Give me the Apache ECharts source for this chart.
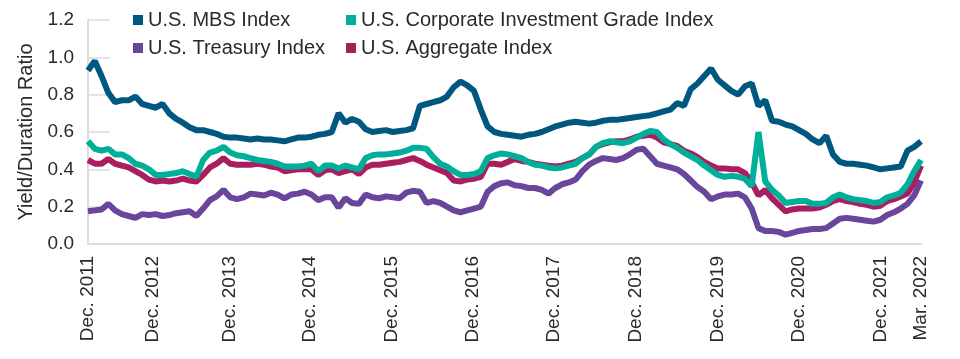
<!DOCTYPE html>
<html>
<head>
<meta charset="utf-8">
<script src="https://cdn.jsdelivr.net/npm/echarts@6/dist/echarts.min.js"></script>
<style>
html,body{margin:0;padding:0;background:#fff;}
#chart{width:960px;height:359px;}
</style>
</head>
<body>
<div id="chart"></div>
<script>
// Monthly observations, Dec. 2011 (index 0) through Mar. 2022 (index 123)
var mbs = [0.93,0.98,0.90,0.81,0.76,0.77,0.77,0.79,0.75,0.74,0.73,0.75,0.70,0.67,0.65,0.625,0.61,0.61,0.60,0.59,
0.575,0.57,0.57,0.565,0.56,0.565,0.56,0.56,0.555,0.55,0.56,0.57,0.57,0.575,0.585,0.59,0.60,0.70,0.65,0.67,
0.655,0.615,0.60,0.605,0.61,0.60,0.605,0.61,0.62,0.74,0.75,0.76,0.77,0.79,0.84,0.87,0.85,0.82,0.72,0.63,
0.60,0.59,0.585,0.58,0.575,0.585,0.59,0.60,0.615,0.63,0.64,0.65,0.655,0.65,0.645,0.65,0.66,0.665,0.665,0.67,
0.675,0.68,0.685,0.69,0.70,0.71,0.72,0.755,0.74,0.83,0.86,0.90,0.94,0.88,0.85,0.82,0.80,0.845,0.86,0.74,
0.77,0.66,0.655,0.64,0.63,0.61,0.59,0.56,0.54,0.58,0.48,0.44,0.43,0.43,0.425,0.42,0.41,0.40,0.405,0.41,
0.415,0.50,0.52,0.55];
var corporate = [0.55,0.51,0.50,0.51,0.48,0.48,0.46,0.43,0.42,0.40,0.37,0.37,0.375,0.38,0.39,0.375,0.36,0.45,0.49,0.50,
0.52,0.49,0.475,0.47,0.46,0.45,0.445,0.44,0.43,0.415,0.415,0.415,0.42,0.43,0.39,0.42,0.42,0.405,0.42,0.41,
0.40,0.46,0.475,0.48,0.48,0.485,0.49,0.50,0.515,0.515,0.51,0.465,0.43,0.415,0.39,0.37,0.37,0.375,0.39,0.46,
0.475,0.485,0.48,0.47,0.46,0.44,0.425,0.42,0.41,0.405,0.41,0.42,0.43,0.46,0.48,0.52,0.54,0.55,0.545,0.54,
0.55,0.57,0.59,0.605,0.60,0.56,0.535,0.515,0.49,0.47,0.45,0.42,0.395,0.37,0.36,0.365,0.36,0.35,0.31,0.60,
0.335,0.29,0.26,0.22,0.225,0.23,0.23,0.215,0.215,0.22,0.25,0.265,0.25,0.24,0.235,0.23,0.22,0.225,0.25,0.26,
0.275,0.32,0.39,0.45];
var treasury = [0.175,0.18,0.185,0.215,0.18,0.16,0.15,0.14,0.16,0.155,0.16,0.15,0.155,0.165,0.17,0.175,0.15,0.19,0.235,0.255,
0.29,0.25,0.24,0.25,0.27,0.265,0.26,0.275,0.265,0.245,0.265,0.27,0.28,0.265,0.235,0.25,0.25,0.195,0.245,0.22,
0.215,0.265,0.25,0.245,0.255,0.25,0.245,0.275,0.285,0.28,0.22,0.23,0.22,0.20,0.18,0.17,0.18,0.19,0.20,0.28,
0.31,0.325,0.33,0.315,0.31,0.30,0.30,0.29,0.27,0.30,0.32,0.33,0.345,0.39,0.425,0.445,0.46,0.455,0.45,0.46,
0.48,0.505,0.51,0.47,0.43,0.42,0.41,0.40,0.375,0.34,0.305,0.28,0.24,0.255,0.265,0.265,0.27,0.25,0.19,0.085,
0.07,0.07,0.065,0.05,0.06,0.07,0.075,0.08,0.08,0.085,0.11,0.135,0.14,0.135,0.13,0.125,0.12,0.13,0.155,0.17,
0.19,0.215,0.26,0.34];
var aggregate = [0.45,0.43,0.43,0.455,0.43,0.42,0.41,0.39,0.37,0.345,0.335,0.34,0.335,0.34,0.35,0.34,0.335,0.37,0.41,0.43,
0.46,0.43,0.425,0.425,0.425,0.43,0.425,0.415,0.41,0.39,0.395,0.40,0.40,0.40,0.37,0.395,0.40,0.38,0.39,0.40,
0.375,0.41,0.425,0.425,0.43,0.435,0.44,0.45,0.46,0.445,0.425,0.41,0.395,0.38,0.34,0.335,0.345,0.35,0.36,0.43,
0.43,0.425,0.44,0.455,0.445,0.44,0.43,0.425,0.42,0.415,0.42,0.43,0.44,0.46,0.48,0.52,0.535,0.545,0.55,0.55,
0.56,0.575,0.58,0.585,0.57,0.545,0.535,0.525,0.50,0.485,0.465,0.44,0.42,0.405,0.405,0.40,0.40,0.38,0.33,0.26,
0.29,0.245,0.21,0.175,0.185,0.19,0.19,0.19,0.195,0.21,0.23,0.24,0.23,0.225,0.215,0.21,0.20,0.205,0.23,0.24,
0.255,0.27,0.33,0.42];

var tickLabels = ['Dec. 2011','Dec. 2012','Dec. 2013','Dec. 2014','Dec. 2015','Dec. 2016','Dec. 2017','Dec. 2018','Dec. 2019','Dec. 2020','Dec. 2021','Mar. 2022'];
var tickPositions = [0, 9.6, 21, 32.8, 44.9, 56.85, 68.8, 80.9, 93, 105, 117, 123];

var names = {
  mbs: 'U.S. MBS Index',
  corp: 'U.S. Corporate Investment Grade Index',
  tsy: 'U.S. Treasury Index',
  agg: 'U.S. Aggregate Index'
};
var colors = { mbs: '#00577f', corp: '#00af9a', tsy: '#69459b', agg: '#aa1e5f' };

function pairs(arr){ return arr.map(function(v,i){ return [i, v]; }); }

var FONT = '"Liberation Sans", Arial, Helvetica, sans-serif';
var legendText = { fontSize: 20, color: '#2a2a2a', fontFamily: FONT, lineHeight: 20 };

var chart = echarts.init(document.getElementById('chart'), null, {renderer: 'canvas'});
chart.setOption({
  animation: false,
  color: [colors.mbs, colors.corp, colors.tsy, colors.agg],
  textStyle: { fontFamily: FONT },
  legend: [
    { orient: 'vertical', left: 133, top: 10, icon: 'rect', itemWidth: 10, itemHeight: 10, itemGap: 8,
      data: [names.mbs, names.tsy], textStyle: legendText, padding: 0 },
    { orient: 'vertical', left: 346, top: 10, icon: 'rect', itemWidth: 10, itemHeight: 10, itemGap: 8,
      data: [names.corp, names.agg], textStyle: legendText, padding: 0 }
  ],
  grid: { left: 88, right: 39, top: 20, bottom: 115, containLabel: false },
  xAxis: {
    type: 'value', min: 0, max: 123,
    axisLine: { show: true, lineStyle: { color: '#dcdcdc', width: 2 } },
    axisTick: { show: false },
    splitLine: { show: false },
    axisLabel: {
      customValues: tickPositions,
      rotate: 90, fontSize: 19, color: '#2a2a2a', fontFamily: FONT, margin: 12,
      showMinLabel: true, showMaxLabel: true,
      formatter: function(v){
        var best = 0, d = 1e9;
        for (var i = 0; i < tickPositions.length; i++) {
          var dd = Math.abs(tickPositions[i] - v);
          if (dd < d) { d = dd; best = i; }
        }
        return tickLabels[best];
      }
    }
  },
  yAxis: {
    type: 'value', min: 0, max: 1.2, interval: 0.2,
    name: 'Yield/Duration Ratio', nameLocation: 'middle', nameGap: 49,
    nameTextStyle: { fontSize: 20, color: '#2a2a2a', fontFamily: FONT },
    axisLine: { show: true, lineStyle: { color: '#dcdcdc', width: 2 } },
    axisTick: { show: true, inside: true, length: 22, lineStyle: { color: '#dcdcdc', width: 1.5 } },
    splitLine: { show: false },
    axisLabel: { fontSize: 19, color: '#2a2a2a', fontFamily: FONT, margin: 14,
      formatter: function(v){ return v.toFixed(1); } }
  },
  series: [
    { name: names.tsy, type: 'line', data: pairs(treasury), showSymbol: false, z: 2,
      lineStyle: { width: 6, color: colors.tsy }, itemStyle: { color: colors.tsy } },
    { name: names.agg, type: 'line', data: pairs(aggregate), showSymbol: false, z: 3,
      lineStyle: { width: 6, color: colors.agg }, itemStyle: { color: colors.agg } },
    { name: names.corp, type: 'line', data: pairs(corporate), showSymbol: false, z: 4,
      lineStyle: { width: 6, color: colors.corp }, itemStyle: { color: colors.corp } },
    { name: names.mbs, type: 'line', data: pairs(mbs), showSymbol: false, z: 5,
      lineStyle: { width: 6, color: colors.mbs }, itemStyle: { color: colors.mbs } }
  ]
});
</script>
</body>
</html>
